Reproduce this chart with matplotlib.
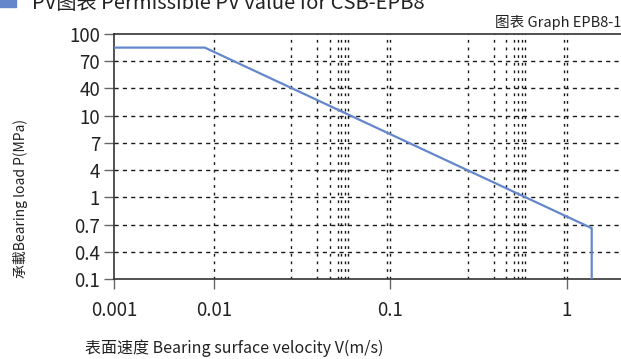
import numpy as np
import matplotlib
matplotlib.use('Agg')
import matplotlib.pyplot as plt
from matplotlib.patches import Rectangle
from matplotlib.ticker import FixedLocator, NullFormatter

plt.rcParams['font.family'] = ['Noto Sans CJK SC', 'DejaVu Sans']

# data
speed = [0.001, 0.0081, 1.38, 1.38]      # V (m/s)
load = [85, 85, 0.66, 0.1]               # P (MPa)

y_ticks = [0.1, 0.4, 0.7, 1, 4, 7, 10, 40, 70, 100]
y_labels = ['0.1', '0.4', '0.7', '1', '4', '7', '10', '40', '70', '100']
x_ticks = [0.001, 0.01, 0.1, 1]
x_labels = ['0.001', '0.01', '0.1', '1']

# the chart's axes are not true log scales: decades have uneven widths,
# y ticks are evenly spaced
dec_log = [-3, -2, -1, 0, 1]
dec_pos = [0, 100, 276, 453, 630]


def xf(v):
    return np.interp(np.log10(np.clip(v, 1e-6, None)), dec_log, dec_pos)


def xinv(p):
    return 10 ** np.interp(p, dec_pos, dec_log)


def yf(v):
    return np.interp(v, y_ticks, np.arange(len(y_ticks)))


def yinv(p):
    return np.interp(p, np.arange(len(y_ticks)), y_ticks)


# odd minor grid pattern of the original, as fraction of a decade
minor_frac = [0.44, 0.587, 0.657, 0.703, 0.723, 0.745, 0.762, 0.985]
minor_x = [10 ** (d + f) for d in (-2, -1) for f in minor_frac]

fig = plt.figure(figsize=(6.21, 3.59), dpi=100)
ax = fig.add_axes([114 / 621, 1 - 279 / 359, (621 - 114) / 621, 245 / 359])
ax.set_xscale('function', functions=(xf, xinv))
ax.set_yscale('function', functions=(yf, yinv))
ax.set_xlim(0.001, 2.02)
ax.set_ylim(0.1, 100)

ax.plot(speed, load, color='#6487cc', lw=1.6, zorder=3)

ax.xaxis.set_major_locator(FixedLocator(x_ticks))
ax.set_xticklabels(x_labels)
ax.xaxis.set_minor_locator(FixedLocator(minor_x))
ax.xaxis.set_minor_formatter(NullFormatter())
ax.yaxis.set_major_locator(FixedLocator(y_ticks))
ax.set_yticklabels(y_labels)
ax.yaxis.set_minor_locator(FixedLocator([]))

for yv in y_ticks[1:-1]:
    ax.axhline(yv, color='#1a1a1a', lw=1.0, ls=(0, (3, 3)), zorder=1)
for xv in x_ticks[1:] + minor_x:
    ax.axvline(xv, color='#1a1a1a', lw=1.0, ls=(0, (2, 3.5)), zorder=1)

ax.tick_params(axis='both', which='major', labelsize=13.5, colors='#222222',
               length=7, width=1, direction='out')
ax.tick_params(axis='x', which='major', color='#666666', pad=8)
ax.tick_params(axis='y', which='major', color='#666666', pad=3)
ax.tick_params(axis='x', which='minor', length=0)
ax.spines['right'].set_visible(False)
for s in ['left', 'bottom', 'top']:
    ax.spines[s].set_color('#333333')
    ax.spines[s].set_linewidth(1.2)

fig.text(20 / 621, 1 - 198 / 359, '承載Bearing load P(MPa)', rotation=90,
         ha='center', va='center', fontsize=10, color='#222222')
fig.text(234 / 621, 1 - 348 / 359, '表面速度 Bearing surface velocity V(m/s)',
         ha='center', va='center', fontsize=11.5, color='#222222')
fig.text(1.0, 1 - 27 / 359, '图表 Graph EPB8-1', ha='right', va='baseline',
         fontsize=10.5, color='#222222')
fig.text(32 / 621, 1 - 9 / 359, 'PV图表 Permissible PV value for CSB-EPB8',
         ha='left', va='baseline', fontsize=14.5, color='#222222')
fig.patches.append(Rectangle((0, 1 - 7 / 359), 16 / 621, 12 / 359,
                             transform=fig.transFigure, color='#6487cc'))

fig.savefig('out.png', dpi=100)
